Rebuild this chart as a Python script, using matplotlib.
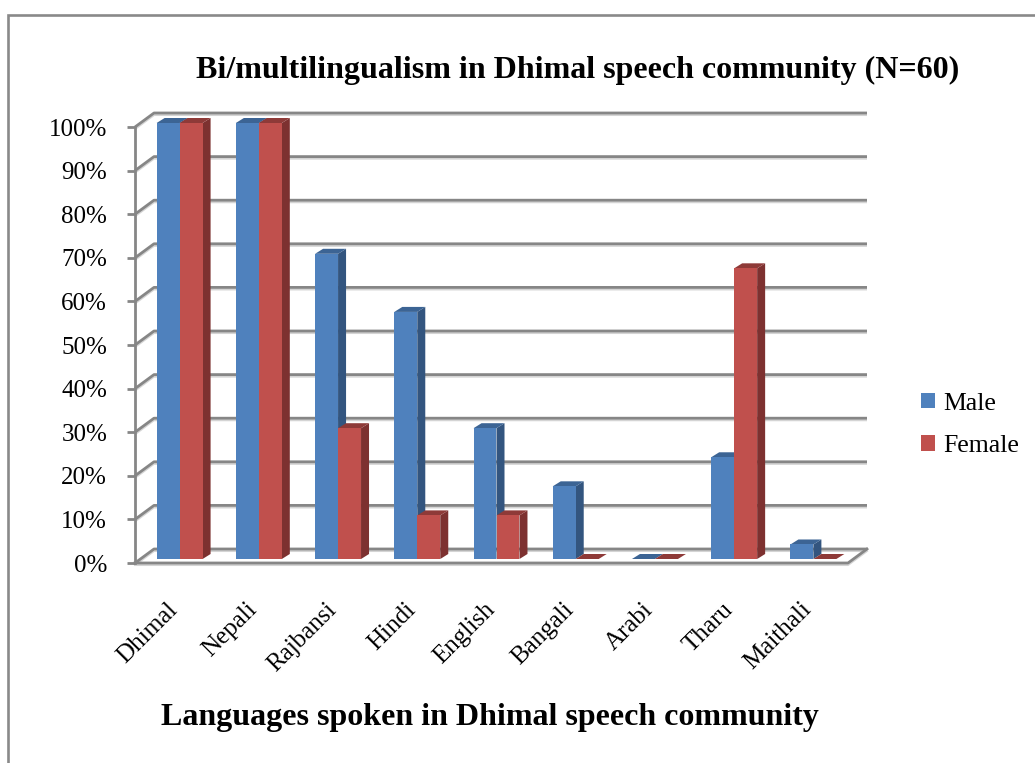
from matplotlib import pyplot as plt
from matplotlib.patches import Polygon, Patch, Rectangle
from matplotlib import transforms
import numpy as np

languages = ["Dhimal", "Nepali", "Rajbansi", "Hindi", "English",
             "Bangali", "Arabi", "Tharu", "Maithali"]
male = [100, 100, 70, 56.67, 30, 16.67, 0, 23.33, 3.33]
female = [100, 100, 30, 10, 10, 0, 0, 66.67, 0]
y_ticks = [0, 10, 20, 30, 40, 50, 60, 70, 80, 90, 100]

plt.rcParams["font.family"] = ["Liberation Serif", "DejaVu Serif"]

W, H = 1035, 763
fig = plt.figure(figsize=(W / 100, H / 100), dpi=100)
ax = fig.add_axes([135 / W, 1 - 563 / H, (848 - 135) / W, (563 - 127) / H])
ax.set_xlim(0, len(languages))
ax.set_ylim(0, 100)
for s in ax.spines.values():
    s.set_visible(False)

# pixel -> data unit sizes
ux = len(languages) / (848 - 135)
uy = 100 / (563 - 127)

GRID = "#868686"
SHADOW = "#d4d4d4"
DX, DY = 19 * ux, 14 * uy   # depth of back wall

shadow_tr = transforms.offset_copy(ax.transData, fig=fig, x=0, y=-2, units="dots")

n = len(languages)
for v in y_ticks:
    # back wall gridline + left wall diagonal
    xs = [0, DX, n + DX]
    ys = [v, v + DY, v + DY]
    ax.plot(xs, ys, color=SHADOW, lw=1.5, transform=shadow_tr, zorder=1,
            solid_capstyle="butt", clip_on=False)
    ax.plot(xs, ys, color=GRID, lw=2.0, zorder=2, solid_capstyle="butt", clip_on=False)

# front axis line and floor
ax.plot([0, 0], [0, 100], color=GRID, lw=2.0, zorder=2, clip_on=False)
ax.plot([0, n, n + DX], [0, 0, DY], color=SHADOW, lw=1.5, transform=shadow_tr,
        zorder=1, clip_on=False)
ax.plot([0, n, n + DX], [0, 0, DY], color=GRID, lw=2.0, zorder=2, clip_on=False)

# 3D-looking bars
bw = 0.29
off_x, off_y = 5 * ux, 4 * uy
sdx, sdy = 8 * ux, 5 * uy
styles = {
    "male": ("#4f81bd", "#33557f", "#3c6494"),
    "female": ("#c0504d", "#7d3130", "#8e3a38"),
}


def draw_bar(x0, val, colors, z):
    front, side, top = colors
    fx = x0 + off_x
    y0 = off_y
    y1 = off_y + val
    ax.add_patch(Polygon([(fx + bw, y0), (fx + bw + sdx, y0 + sdy),
                          (fx + bw + sdx, y1 + sdy), (fx + bw, y1)],
                         closed=True, facecolor=side, edgecolor="none", zorder=z,
                         clip_on=False))
    ax.add_patch(Polygon([(fx, y1), (fx + sdx, y1 + sdy),
                          (fx + bw + sdx, y1 + sdy), (fx + bw, y1)],
                         closed=True, facecolor=top, edgecolor="none", zorder=z,
                         clip_on=False))
    ax.add_patch(Rectangle((fx, y0), bw, val, facecolor=front,
                           edgecolor="none", zorder=z, clip_on=False))


for i in range(n):
    draw_bar(i + 0.5 - bw, male[i], styles["male"], 5 + 2 * i)
    draw_bar(i + 0.5, female[i], styles["female"], 6 + 2 * i)

ax.set_yticks(y_ticks)
ax.set_yticklabels([f"{t}%" for t in y_ticks], fontsize=18)
ax.tick_params(axis="y", length=6, width=2.0, color=GRID, pad=14)
ax.set_xticks(np.arange(n) + 0.5)
ax.set_xticklabels(languages, fontsize=18, rotation=45, ha="right", va="center",
                   rotation_mode="anchor")
ax.tick_params(axis="x", length=0, pad=31)

fig.text(578 / W, 1 - 70 / H, "Bi/multilingualism in Dhimal speech community (N=60)",
         ha="center", va="center", fontsize=23, fontweight="bold")
fig.text(490 / W, 1 - 717 / H, "Languages spoken in Dhimal speech community",
         ha="center", va="center", fontsize=23, fontweight="bold")

handles = [Patch(facecolor=styles["male"][0], label="Male"),
           Patch(facecolor=styles["female"][0], label="Female")]
fig.legend(handles=handles, loc="center left", bbox_to_anchor=(921 / W, 1 - 425 / H),
           frameon=False, fontsize=18.5, handlelength=0.56, handleheight=0.56,
           handletextpad=0.3, labelspacing=0.8, borderpad=0, borderaxespad=0)

# chart border (runs off the right and bottom edges)
fig.add_artist(Rectangle((8 / W, -0.05), 1.2, 1.05 - 15 / H, transform=fig.transFigure,
                         fill=False, edgecolor="#898989", lw=1.9))

fig.savefig("out.png", dpi=100)
